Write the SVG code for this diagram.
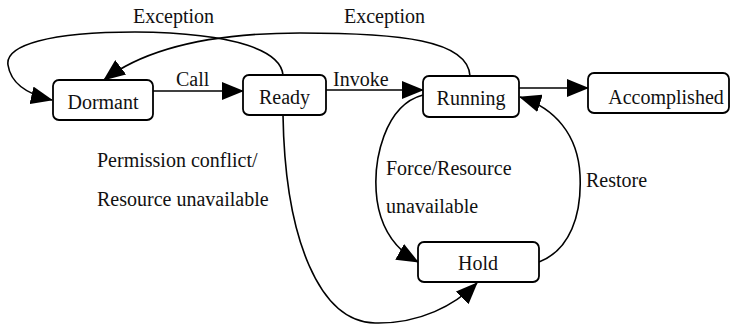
<svg xmlns="http://www.w3.org/2000/svg" width="735" height="325" viewBox="0 0 735 325">
  <defs>
    <marker id="arrow" markerUnits="userSpaceOnUse" viewBox="0 0 22 18" refX="21" refY="9" markerWidth="22" markerHeight="18" orient="auto">
      <path d="M0,0 L22,9 L0,18 Z" fill="#000"/>
    </marker>
    <style>
      .state { fill: #fff; stroke: #000; stroke-width: 1.8; }
      .edge { fill: none; stroke: #000; stroke-width: 1.6; marker-end: url(#arrow); }
    </style>
  </defs>
  <rect width="735" height="325" fill="#fff"/>

  <g font-family="Times New Roman, Liberation Serif, serif" font-size="20" fill="#111">
  <!-- transitions -->
  <g id="connectors">
    <path class="edge" d="M153,91 L243,91"/>
    <path class="edge" d="M326,90 L423,90"/>
    <path class="edge" d="M519,88 L588,88"/>
    <!-- Ready -> Dormant (exception) -->
    <path class="edge" d="M283,75 C281,52 240,33 135,32 C50,32 5,45 8,65 C11,85 30,95 52,100"/>
    <!-- Running -> Dormant (exception) -->
    <path class="edge" d="M470,76 C468,40 400,33 300,33 C220,33 150,45 104,80"/>
    <!-- Ready -> Hold -->
    <path class="edge" d="M283,115 C285,240 320,322 375,323 C420,324 455,305 477,283"/>
    <!-- Running -> Hold -->
    <path class="edge" d="M423,95 C385,105 372,160 377,200 C382,235 400,252 418,262"/>
    <!-- Hold -> Running (restore) -->
    <path class="edge" d="M539,262 C570,250 582,215 580,175 C578,135 555,108 520,97"/>

    <text x="133" y="23">Exception</text>
    <text x="344" y="23">Exception</text>
    <text x="176" y="86">Call</text>
    <text x="333" y="86">Invoke</text>
    <text x="97" y="167">Permission conflict/</text>
    <text x="97" y="206">Resource unavailable</text>
    <text x="386" y="175">Force/Resource</text>
    <text x="386" y="213">unavailable</text>
    <text x="586" y="187">Restore</text>
  </g>

  <g id="dormant">
    <rect class="state" x="53" y="80" width="100" height="40" rx="6"/>
    <text text-anchor="middle" x="103" y="109">Dormant</text>
  </g>
  <g id="ready">
    <rect class="state" x="243" y="75" width="83" height="40" rx="6"/>
    <text text-anchor="middle" x="284.5" y="104">Ready</text>
  </g>
  <g id="running">
    <rect class="state" x="423" y="76" width="96" height="41" rx="6"/>
    <text text-anchor="middle" x="471" y="105">Running</text>
  </g>
  <g id="accomplished">
    <rect class="state" x="588" y="73" width="141" height="40" rx="6"/>
    <text text-anchor="middle" x="666" y="104">Accomplished</text>
  </g>
  <g id="hold">
    <rect class="state" x="418" y="242" width="121" height="40" rx="6"/>
    <text text-anchor="middle" x="478" y="270">Hold</text>
  </g>
  </g>
</svg>
